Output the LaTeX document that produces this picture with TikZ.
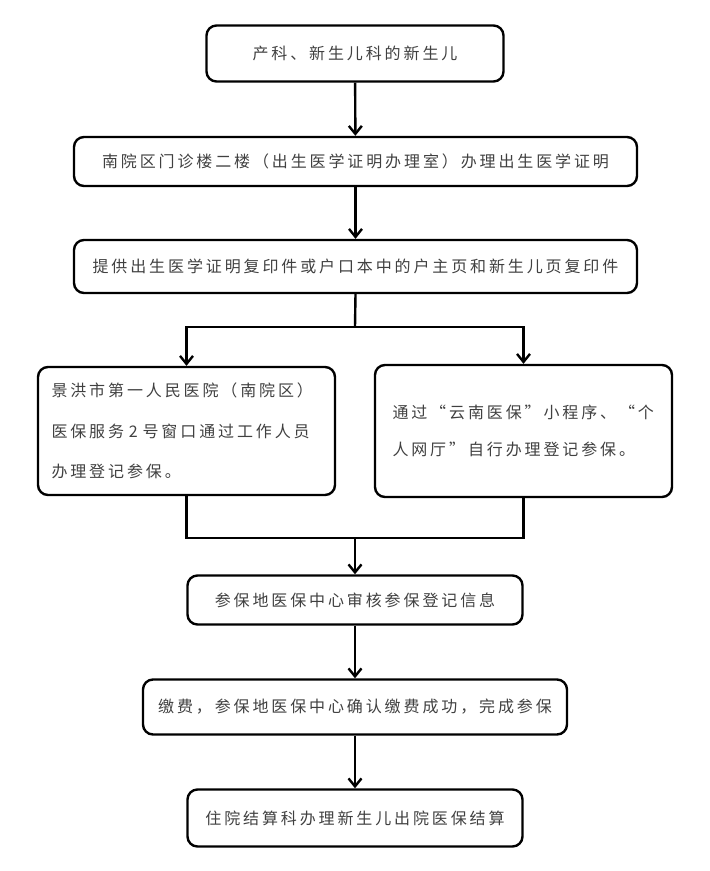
\documentclass[tikz,border=0pt]{standalone}
\usepackage{fontspec}
\newfontfamily\cjk[LetterSpace=18]{Noto Sans CJK SC}
\usetikzlibrary{arrows.meta}
\begin{document}
\begin{tikzpicture}[x=1pt,y=-1pt,
  box/.style={draw,line width=2.4pt,rounded corners=10pt,inner sep=0pt,
    font=\cjk\fontsize{16}{16}\selectfont,text=black!75},
  arr/.style={line width=2.4pt,-{Straight Barb[length=8pt,width=13pt,line width=2.4pt]}},
  lin/.style={line width=2.4pt}]
\useasboundingbox (0,0) rectangle (710,871);
\node[box,minimum width=297pt,minimum height=56pt] (b1) at (355,53.5) {产科、新生儿科的新生儿};
\node[box,minimum width=563pt,minimum height=49pt] (b2) at (355.5,161.5) {南院区门诊楼二楼（出生医学证明办理室）办理出生医学证明};
\node[box,minimum width=563pt,minimum height=53pt] (b3) at (355.5,266.5) {提供出生医学证明复印件或户口本中的户主页和新生儿页复印件};
\node[box,minimum width=297pt,minimum height=128pt,text width=270pt,align=left,
  font=\cjk\fontsize{16}{40.5}\selectfont] (L) at (186.5,431)
  {景洪市第一人民医院（南院区）\\医保服务\hspace{0.3em}2\hspace{0.3em}号窗口通过工作人员\\办理登记参保。};
\node[box,minimum width=297pt,minimum height=132pt,text width=262pt,align=left,
  font=\cjk\fontsize{16}{37}\selectfont] (R) at (523.5,431)
  {通过“云南医保”小程序、“个\\人网厅”自行办理登记参保。};
\node[box,minimum width=335pt,minimum height=49pt] (b4) at (355,600) {参保地医保中心审核参保登记信息};
\node[box,minimum width=424pt,minimum height=55pt] (b5) at (355,707) {缴费，参保地医保中心确认缴费成功，完成参保};
\node[box,minimum width=335pt,minimum height=57pt] (b6) at (355,818) {住院结算科办理新生儿出院医保结算};
\coordinate (s) at (355,327);
\coordinate (m) at (355,538);
\draw[arr] (b1) -- (b2);
\draw[arr] (b2) -- (b3);
\draw[lin] (b3.south) -- (s);
\draw[arr] (s) -| (L.north);
\draw[arr] (s) -| (R.north);
\draw[lin] (L.south) |- (m) -| (R.south);
\draw[arr] (m) -- (b4.north);
\draw[arr] (b4) -- (b5);
\draw[arr] (b5) -- (b6);
\end{tikzpicture}
\end{document}
